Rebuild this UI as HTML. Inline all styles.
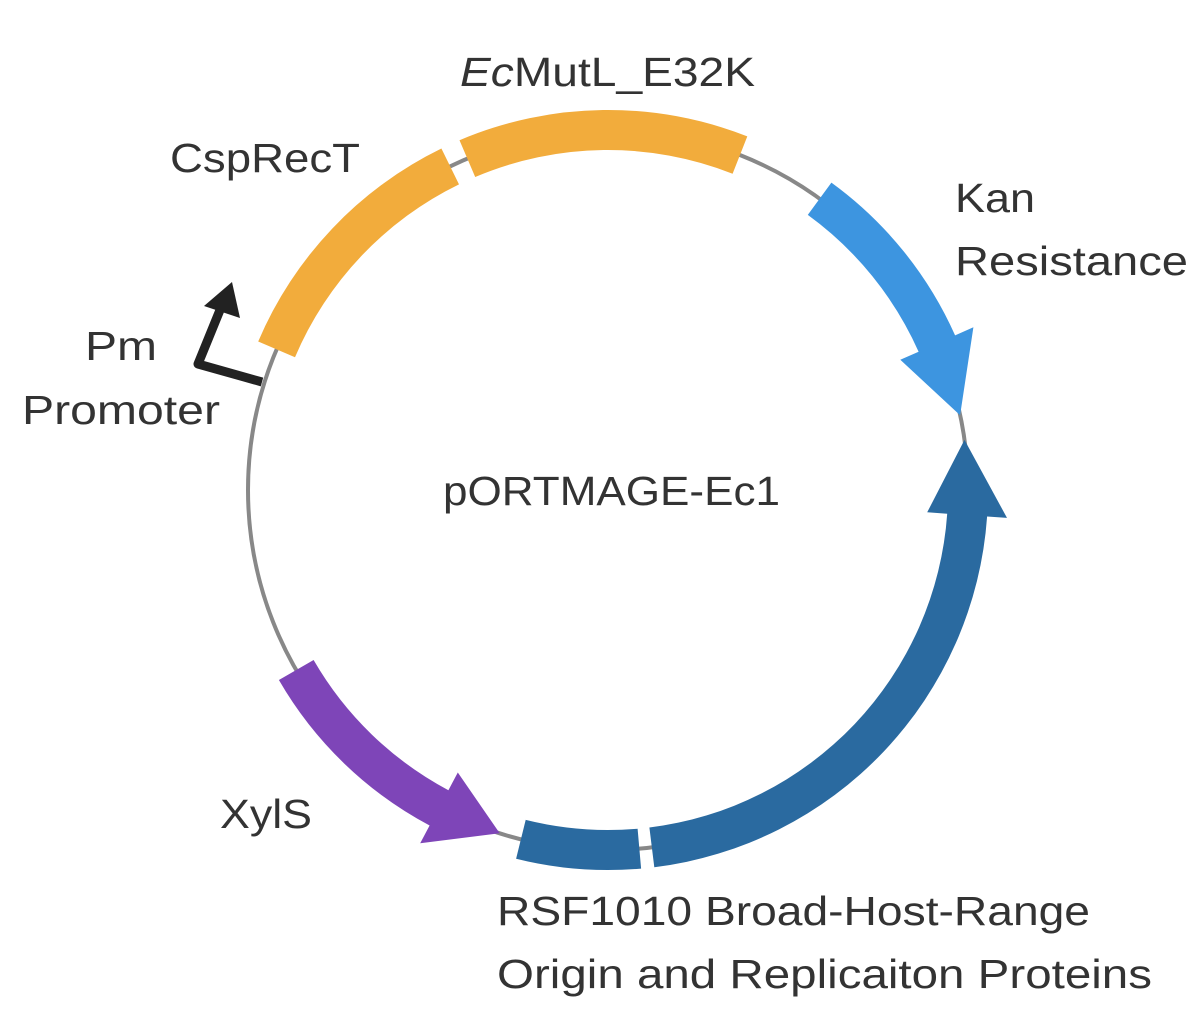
<!DOCTYPE html>
<html><head><meta charset="utf-8"><style>
html,body{margin:0;padding:0;background:#fff;}
svg text{font-family:"Liberation Sans",sans-serif;font-size:41px;fill:#333;}
</style></head><body>
<svg id="s" width="1200" height="1009" viewBox="0 0 1200 1009" xmlns="http://www.w3.org/2000/svg">
<circle cx="608" cy="490" r="360" fill="none" stroke="#888" stroke-width="4"/>
<g id="g"></g>
<polyline points="262,382 198,364 220,310" fill="none" stroke="#222" stroke-width="9" stroke-linejoin="round"/>
<polygon points="232,282 204,306 240,318" fill="#222"/>
<text x="460" y="86" textLength="295" lengthAdjust="spacingAndGlyphs"><tspan font-style="italic">Ec</tspan>MutL_E32K</text>
<text x="170" y="172" textLength="190" lengthAdjust="spacingAndGlyphs">CspRecT</text>
<text x="955" y="212" textLength="80" lengthAdjust="spacingAndGlyphs">Kan</text>
<text x="955" y="275" textLength="233" lengthAdjust="spacingAndGlyphs">Resistance</text>
<text x="85" y="360" textLength="72" lengthAdjust="spacingAndGlyphs">Pm</text>
<text x="22" y="424" textLength="198" lengthAdjust="spacingAndGlyphs">Promoter</text>
<text x="443" y="505" textLength="337" lengthAdjust="spacingAndGlyphs">pORTMAGE-Ec1</text>
<text x="220" y="828" textLength="92" lengthAdjust="spacingAndGlyphs">XylS</text>
<text x="497" y="925" textLength="593" lengthAdjust="spacingAndGlyphs">RSF1010 Broad-Host-Range</text>
<text x="497" y="988" textLength="655" lengthAdjust="spacingAndGlyphs">Origin and Replicaiton Proteins</text>
</svg>
<script>
var cx=608,cy=490,R=360,w=20,h=40;
function P(r,t){t=t*Math.PI/180;return (cx+r*Math.sin(t)).toFixed(1)+","+(cy-r*Math.cos(t)).toFixed(1);}
function band(a,b,c){var l=Math.abs(b-a)>180?1:0,sw=b>a?1:0;
return '<path fill="'+c+'" d="M'+P(R+w,a)+' A'+(R+w)+','+(R+w)+' 0 '+l+' '+sw+' '+P(R+w,b)+' L'+P(R-w,b)+' A'+(R-w)+','+(R-w)+' 0 '+l+' '+(1-sw)+' '+P(R-w,a)+'Z"/>';}
function arrow(a,b,tip,c){var l=Math.abs(b-a)>180?1:0,sw=b>a?1:0;
return '<path fill="'+c+'" d="M'+P(R+w,a)+' A'+(R+w)+','+(R+w)+' 0 '+l+' '+sw+' '+P(R+w,b)+' L'+P(R+h,b)+' L'+P(R,tip)+' L'+P(R-h,b)+' L'+P(R-w,b)+' A'+(R-w)+','+(R-w)+' 0 '+l+' '+(1-sw)+' '+P(R-w,a)+'Z"/>';}
var s='';
s+=band(-67,-26,'#F2AC3C');
s+=band(-23,21.5,'#F2AC3C');
s+=arrow(36,66,78,'#3D95E0');
s+=arrow(173,94,82,'#2A6AA0');
s+=band(175,194,'#2A6AA0');
s+=arrow(240,208,197.5,'#7E45B8');
document.getElementById('g').innerHTML=s;
</script>
</body></html>
